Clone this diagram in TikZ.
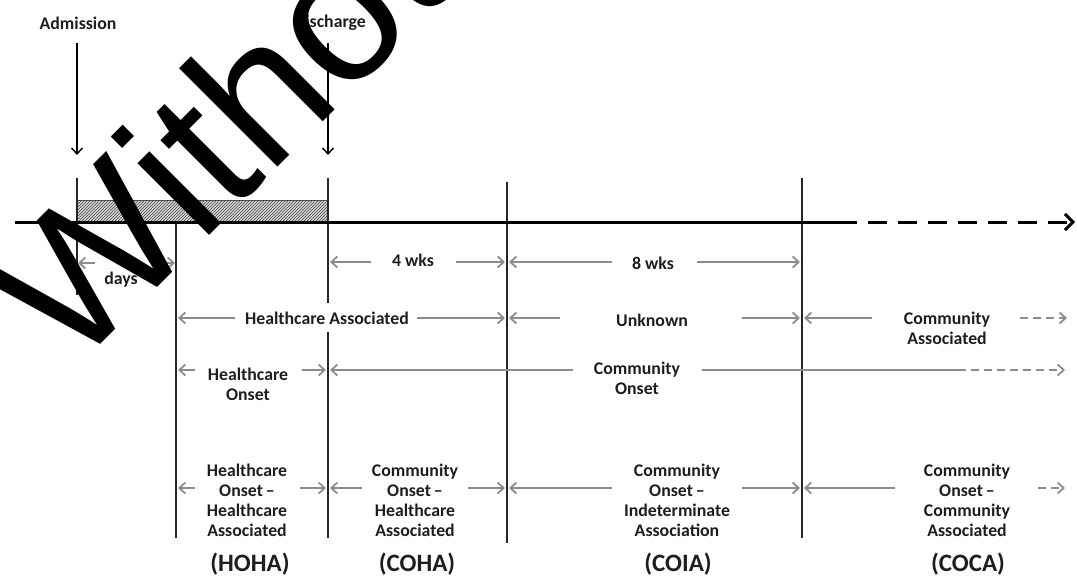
\documentclass[tikz,border=0pt]{standalone}
\usepackage{fontspec}
\setmainfont{Carlito}[BoldFont={Carlito Bold}]
\newfontfamily\wmfont{Liberation Sans}
\usetikzlibrary{arrows.meta,patterns}
\definecolor{arrgray}{RGB}{140,140,140}
\definecolor{txt}{RGB}{30,30,30}
\begin{document}
\begin{tikzpicture}[x=1pt,y=-1pt,
  lbl/.style={font=\bfseries\fontsize{17.8}{20}\selectfont, text=txt, align=center, inner sep=1pt},
  big/.style={font=\bfseries\fontsize{25}{28}\selectfont, text=txt, inner sep=1pt},
  tickline/.style={line width=2pt, black!85},
  garr/.style={arrgray, line width=1.8pt, -{Straight Barb[length=6pt,width=11pt]}},
  gline/.style={arrgray, line width=1.8pt},
  gdash/.style={arrgray, line width=1.8pt, dash pattern=on 8pt off 5pt, -{Straight Barb[length=6pt,width=11pt]}},
  karr/.style={black, line width=1.4pt, -{Straight Barb[length=6pt,width=11pt]}}]
\useasboundingbox (0,0) rectangle (1077,576);

% top labels and arrows
\node[lbl] (adm) at (78,23) {Admission};
\node[lbl] (dis) at (330,23) {Discharge};
\coordinate (admA) at (77,43); \coordinate (admB) at (77,155);
\coordinate (disA) at (328,43); \coordinate (disB) at (328,155);
\draw[karr] (admA) -- (admB);
\draw[karr] (disA) -- (disB);

% hatched stay
\coordinate (h1) at (77,200); \coordinate (h2) at (328,222);
\fill[gray!30] (h1) rectangle (h2);
\fill[pattern=north east lines, pattern color=black!75] (h1) rectangle (h2);
\draw[black!70, line width=0.6pt] (h1) rectangle (h2);

% vertical ticks
\coordinate (v0a) at (77,178);  \coordinate (v0b) at (77,295);
\coordinate (v1a) at (176,222); \coordinate (v1b) at (176,538);
\coordinate (v2a) at (328,178); \coordinate (v2b) at (328,303);
\coordinate (v2c) at (328,332); \coordinate (v2d) at (328,538);
\coordinate (v3a) at (507,182); \coordinate (v3b) at (507,543);
\coordinate (v4a) at (802,178); \coordinate (v4b) at (802,538);
\draw[tickline] (v0a) -- (v0b);
\draw[tickline] (v1a) -- (v1b);
\draw[tickline] (v2a) -- (v2b);
\draw[tickline] (v2c) -- (v2d);
\draw[tickline] (v3a) -- (v3b);
\draw[tickline] (v4a) -- (v4b);

% time axis
\coordinate (ax0) at (15,222); \coordinate (ax1) at (857,222);
\coordinate (ax1b) at (868,222); \coordinate (ax2) at (1075,222);
\draw[black, line width=3pt] (ax0) -- (ax1);
\draw[black, line width=3pt, dash pattern=on 19pt off 11pt, -{Straight Barb[length=8pt,width=16pt]}] (ax1b) -- (ax2);

% row 1
\node[lbl] (days) at (121,280) {days};
\draw[garr] (95,263) coordinate (r1a) -- (78,263) coordinate (r1b);
\draw[garr] (163,263) coordinate (r1c) -- (175,263) coordinate (r1d);
\node[lbl] (w4) at (413,260) {4 wks};
\draw[garr] (371,262) coordinate (r1e) -- (330,262) coordinate (r1f);
\draw[garr] (456,262) coordinate (r1g) -- (505,262) coordinate (r1h);
\node[lbl] (w8) at (653,263) {8 wks};
\draw[garr] (612,262) coordinate (r1i) -- (509,262) coordinate (r1j);
\draw[garr] (697,262) coordinate (r1k) -- (800,262) coordinate (r1l);

% row 2
\node[lbl] (ha) at (327,318) {Healthcare Associated};
\draw[garr] (235,318) coordinate (r2a) -- (178,318) coordinate (r2b);
\draw[garr] (417,318) coordinate (r2c) -- (505,318) coordinate (r2d);
\node[lbl] (unk) at (652,320) {Unknown};
\draw[garr] (560,318) coordinate (r2e) -- (509,318) coordinate (r2f);
\draw[garr] (742,318) coordinate (r2g) -- (800,318) coordinate (r2h);
\node[lbl] (ca) at (947,328) {Community\\Associated};
\draw[garr] (872,318) coordinate (r2i) -- (804,318) coordinate (r2j);
\draw[gdash] (1020,318) coordinate (r2k) -- (1067,318) coordinate (r2l);

% row 3
\node[lbl] (ho) at (248,384) {Healthcare\\Onset};
\draw[garr] (195,370) coordinate (r3a) -- (178,370) coordinate (r3b);
\draw[garr] (302,370) coordinate (r3c) -- (326,370) coordinate (r3d);
\node[lbl] (co) at (637,378) {Community\\Onset};
\draw[garr] (573,370) coordinate (r3e) -- (330,370) coordinate (r3f);
\draw[gline] (702,370) coordinate (r3g) -- (958,370) coordinate (r3h);
\draw[gdash] (r3h) -- (1065,370) coordinate (r3i);

% row 4
\node[lbl] (hoha) at (247,500) {Healthcare\\Onset\,--\\Healthcare\\Associated};
\draw[garr] (195,488) coordinate (r4a) -- (178,488) coordinate (r4b);
\draw[garr] (300,488) coordinate (r4c) -- (326,488) coordinate (r4d);
\node[lbl] (coha) at (415,500) {Community\\Onset\,--\\Healthcare\\Associated};
\draw[garr] (362,488) coordinate (r4e) -- (330,488) coordinate (r4f);
\draw[garr] (468,488) coordinate (r4g) -- (505,488) coordinate (r4h);
\node[lbl] (coia) at (677,500) {Community\\Onset\,--\\Indeterminate\\Association};
\draw[garr] (612,488) coordinate (r4i) -- (509,488) coordinate (r4j);
\draw[garr] (742,488) coordinate (r4k) -- (800,488) coordinate (r4l);
\node[lbl] (coca) at (967,500) {Community\\Onset\,--\\Community\\Associated};
\draw[garr] (895,488) coordinate (r4m) -- (804,488) coordinate (r4n);
\draw[gdash] (1038,488) coordinate (r4o) -- (1065,488) coordinate (r4p);

% bottom abbreviations
\node[big] (bhoha) at (250,564) {(HOHA)};
\node[big] (bcoha) at (417,564) {(COHA)};
\node[big] (bcoia) at (678,564) {(COIA)};
\node[big] (bcoca) at (968,564) {(COCA)};

% watermark
\node[font=\wmfont\fontsize{192}{192}\selectfont, text=black, inner sep=0pt, anchor=base west, rotate=45] (wm) at (72,373) {Without};
\end{tikzpicture}
\end{document}
